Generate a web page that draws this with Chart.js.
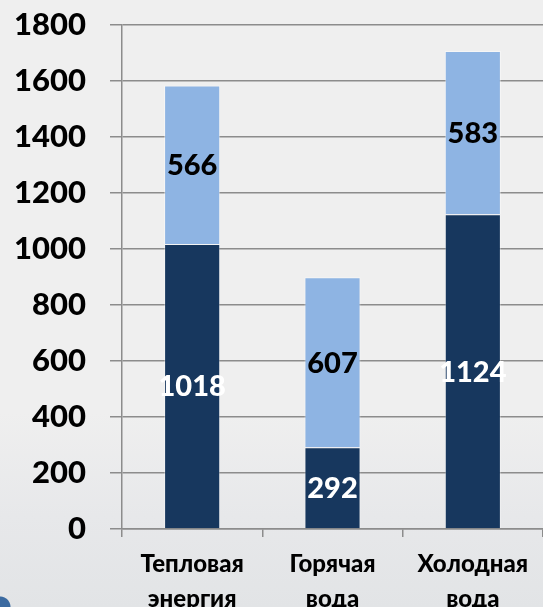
<!DOCTYPE html>
<html>
<head>
<meta charset="utf-8">
<script src="https://cdn.jsdelivr.net/npm/chart.js@4"></script>
<style>
  html, body { margin: 0; padding: 0; }
  body {
    width: 543px; height: 607px; overflow: hidden;
    background:
      radial-gradient(circle at 0 607px, #3b6aa0 0, #3b6aa0 10px, rgba(59,106,160,0) 11px),
      linear-gradient(to bottom, #efefef 0%, #efefef 68%, #e7e8ea 85%, #e2e4e6 100%);
  }
  canvas { display: block; }
</style>
</head>
<body>
<canvas id="chart" width="543" height="607"></canvas>
<script>
// data
const categories = [['Тепловая', 'энергия'], ['Горячая', 'вода'], ['Холодная', 'вода']];
const baseValues = [1018, 292, 1124];
const topValues = [566, 607, 583];
const yTicks = [0, 200, 400, 600, 800, 1000, 1200, 1400, 1600, 1800];

const FONT = 'Lato, "Open Sans", sans-serif';

// draws the value in the middle of each bar segment
const segmentLabels = {
    id: 'segmentLabels',
    afterDatasetsDraw(chart) {
        const ctx = chart.ctx;
        ctx.save();
        ctx.font = '900 29px ' + FONT;
        ctx.textAlign = 'center';
        ctx.textBaseline = 'middle';
        chart.data.datasets.forEach((ds, i) => {
            const meta = chart.getDatasetMeta(i);
            ctx.fillStyle = ds.labelColor;
            meta.data.forEach((bar, j) => {
                const y = (bar.y + bar.base) / 2;
                ctx.fillText(String(ds.data[j]), bar.x, y + 1);
            });
        });
        ctx.restore();
    }
};

new Chart(document.getElementById('chart'), {
    type: 'bar',
    data: {
        labels: categories,
        datasets: [
            { data: baseValues, backgroundColor: '#17375e', borderColor: 'rgba(255,255,255,0.35)', borderWidth: 1, labelColor: '#ffffff' },
            { data: topValues, backgroundColor: '#8eb4e3', borderColor: 'rgba(255,255,255,0.45)', borderWidth: 1, labelColor: '#000000' }
        ]
    },
    options: {
        responsive: false,
        animation: false,
        layout: { padding: { top: 25, right: 0, left: 0, bottom: 0 } },
        plugins: { legend: { display: false }, tooltip: { enabled: false } },
        datasets: { bar: { barPercentage: 1, categoryPercentage: 0.4 } },
        scales: {
            x: {
                stacked: true,
                afterFit: s => { s.height = 78; },
                grid: { drawOnChartArea: false, drawTicks: true, tickLength: 8, color: '#8c8c8c', lineWidth: 1.5 },
                border: { color: '#8c8c8c', width: 1.5 },
                ticks: { color: '#000', padding: 10, font: { family: FONT, size: 24, weight: '900', lineHeight: 1.45 } }
            },
            y: {
                stacked: true,
                min: 0,
                max: 1800,
                afterFit: s => { s.width = 122; s.paddingTop = 0; s.paddingBottom = 0; },
                afterBuildTicks: s => { s.ticks = yTicks.map(v => ({ value: v })); },
                grid: { color: '#8c8c8c', lineWidth: 1.5, tickLength: 12 },
                border: { color: '#8c8c8c', width: 1.5 },
                ticks: { color: '#000', padding: 24, callback: v => String(v), font: { family: FONT, size: 31, weight: '900' } }
            }
        }
    },
    plugins: [segmentLabels]
});
</script>
</body>
</html>
